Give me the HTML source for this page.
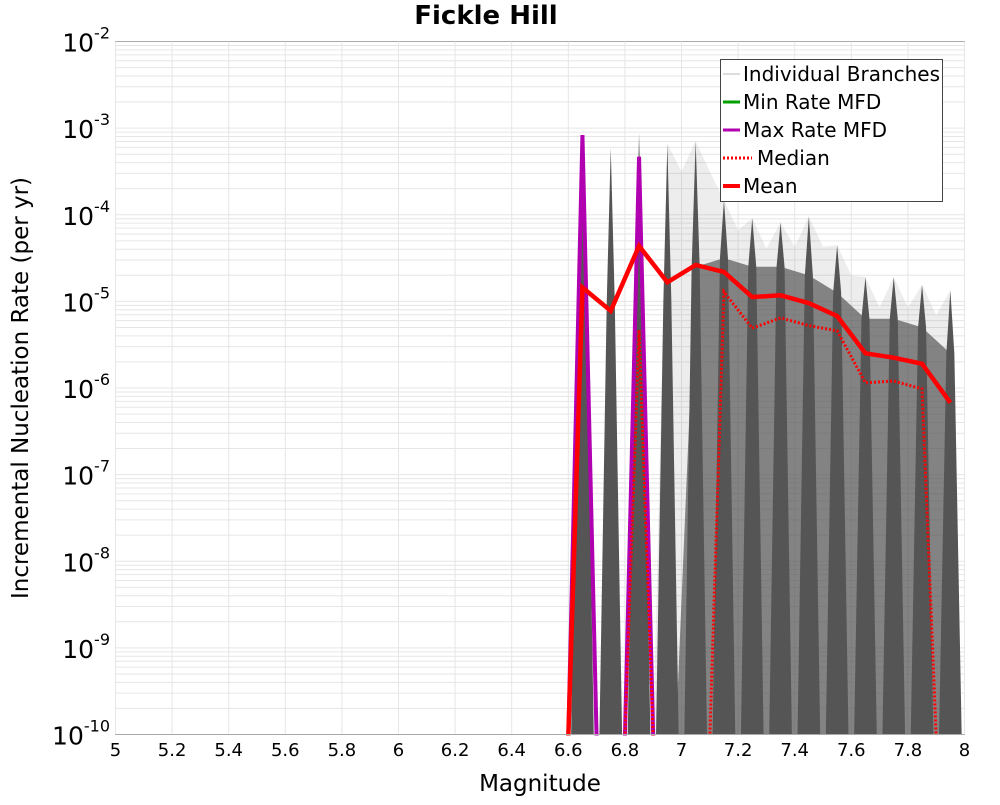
<!DOCTYPE html>
<html><head><meta charset="utf-8"><style>
body{margin:0;background:#fff;font-family:"Liberation Sans","DejaVu Sans",sans-serif}
svg text{font-family:"DejaVu Sans","Liberation Sans",sans-serif}
</style></head><body>
<svg id="chart" width="1000" height="800" viewBox="0 0 1000 800">
<text x="486" y="24" text-anchor="middle" font-size="26" font-weight="bold">Fickle Hill</text>
<rect x="115.5" y="41.5" width="849" height="693" fill="#fff" stroke="#aaa"/>
<g id="grid"></g><g id="branches"></g><g id="series"></g><g id="axes"></g>
<text transform="translate(28,388) rotate(-90)" text-anchor="middle" font-size="23">Incremental Nucleation Rate (per yr)</text>
<text x="540" y="791" text-anchor="middle" font-size="23">Magnitude</text>
<g>
<rect x="720.5" y="59.5" width="222" height="142" fill="#fff" stroke="#444"/>
<line x1="723" y1="74" x2="740" y2="74" stroke="#bbb" stroke-width="1"/><text x="743" y="81" font-size="20">Individual Branches</text>
<line x1="723" y1="102" x2="740" y2="102" stroke="#00a000" stroke-width="3"/><text x="743" y="109" font-size="20">Min Rate MFD</text>
<line x1="723" y1="130" x2="740" y2="130" stroke="#b000b0" stroke-width="3"/><text x="743" y="137" font-size="20">Max Rate MFD</text>
<line x1="723" y1="158" x2="752" y2="158" stroke="#f00" stroke-width="3" stroke-dasharray="2,2"/><text x="757" y="165" font-size="20">Median</text>
<line x1="723" y1="186" x2="740" y2="186" stroke="#f00" stroke-width="4"/><text x="743" y="193" font-size="20">Mean</text>
</g>
</svg>
<script>
const bins=[6.55,6.65,6.75,6.85,6.95,7.05,7.15,7.25,7.35,7.45,7.55,7.65,7.75,7.85,7.95];
const meanLog=[null,-4.84,-5.11,-4.36,-4.78,-4.58,-4.66,-4.95,-4.93,-5.02,-5.17,-5.6,-5.65,-5.72,-6.17];
const medianLog=[null,null,null,-5.33,null,null,-4.89,-5.31,-5.19,-5.28,-5.34,-5.94,-5.92,-6.01,null];
const maxLog=[null,-3.08,null,-3.33,null,null,null,null,null,null,null,null,null,null,null];
const minLog=[null,null,null,null,null,null,null,null,null,null,null,null,null,null,null];
const branchMaxLog=[null,-3.08,-3.23,-3.06,-3.18,-3.15,-3.83,-4.04,-4.09,-4.02,-4.35,-4.72,-4.72,-4.81,-4.87];
const branchMidLog=[null,-5.0,-5.0,-5.0,-5.0,-4.6,-4.5,-4.6,-4.6,-4.7,-4.9,-5.2,-5.2,-5.3,-5.6];
const xTicks=[5,5.2,5.4,5.6,5.8,6,6.2,6.4,6.6,6.8,7,7.2,7.4,7.6,7.8,8];
const xTickLabels=["5","5.2","5.4","5.6","5.8","6","6.2","6.4","6.6","6.8","7","7.2","7.4","7.6","7.8","8"];
const yDecades=[-2,-3,-4,-5,-6,-7,-8,-9,-10];
const NS="http://www.w3.org/2000/svg";
const X0=115.5,X1=964.5,Y0=41.5,Y1=734.5;
const xs=m=>X0+(m-5)/3*(X1-X0);
const ys=l=>Y0+(-2-l)/8*(Y1-Y0);
function mk(tag,attrs,parent){const e=document.createElementNS(NS,tag);for(const k in attrs)e.setAttribute(k,attrs[k]);parent.appendChild(e);return e;}
const grid=document.getElementById('grid'),axes=document.getElementById('axes'),br=document.getElementById('branches'),ser=document.getElementById('series');
for(let d=-10;d<-2;d++){for(let k=1;k<10;k++){const y=ys(d+Math.log10(k));const l=mk('line',{x1:X0,x2:X1,y1:y,y2:y,stroke:'#e6e6e6','stroke-width':1},grid);

}}
xTicks.forEach((t,i)=>{const x=xs(t);const g=mk('line',{x1:x,x2:x,y1:Y0,y2:Y1,stroke:'#e6e6e6'},grid);


const tx=mk('text',{x:x,y:756,'text-anchor':'middle','font-size':18},axes);tx.textContent=xTickLabels[i];

});
yDecades.forEach(d=>{const y=ys(d);const t=mk('text',{x:110,y:y+10,'text-anchor':'end','font-size':25},axes);


t.textContent='10';const s=mk('tspan',{dy:-13,'font-size':16},t);s.textContent=String(d);});
let env=[[xs(6.9),Y1]];
bins.forEach((b,i)=>{if(b<6.9||branchMaxLog[i]==null)return;env.push([xs(b),ys(branchMaxLog[i])]);if(b<7.9)env.push([xs(b+0.05),ys(Math.max(branchMaxLog[i],branchMaxLog[i+1]||-9)-0.35)]);});
env.push([xs(7.98),Y1]);
const mesh=mk('polygon',{points:env.map(p=>p.join(',')).join(' '),fill:'#777','fill-opacity':0.13},br);


const meshD=[[xs(6.98),Y1]];
bins.forEach((b,i)=>{if(b<7.0||branchMidLog[i]==null)return;meshD.push([xs(b),ys(branchMidLog[i])]);});
meshD.push([xs(7.97),Y1]);
const md=mk('polygon',{points:meshD.map(p=>p.join(',')).join(' '),fill:'#555','fill-opacity':0.7},br);


bins.forEach((b,i)=>{if(branchMaxLog[i]==null)return;const c=xs(b),top=ys(branchMaxLog[i]),mid=ys(branchMidLog[i]);
const sp=mk('polygon',{points:`${xs(b-0.04)},${Y1} ${c-4},${mid} ${c},${top} ${c+4},${mid} ${xs(b+0.04)},${Y1}`,fill:'#555'},br);

});
function series(vals,attrs,name){const pts=[];vals.forEach((v,i)=>{const b=bins[i];if(v!=null){pts.push([xs(b),ys(v)]);}else{const prev=vals[i-1],next=vals[i+1];
if(prev!=null&&i>0)pts.push([xs(b-0.05),Y1+3]);
if(next!=null){pts.push(null);pts.push([xs(b+0.05),Y1+3]);}}});
let d='',pen=false;pts.forEach(p=>{if(p==null){pen=false;return;}d+=(pen?'L':'M')+p[0]+','+p[1];pen=true;});
if(!d)return;const e=mk('path',Object.assign({d:d,fill:'none','stroke-linejoin':'miter'},attrs),ser);

}
series(minLog,{stroke:'#00a000','stroke-width':3},'min-rate-line');
series(maxLog,{stroke:'#b000b0','stroke-width':4},'max-rate-line');
series(medianLog,{stroke:'#f00','stroke-width':3,'stroke-dasharray':'2,2'},'median-line');
series(meanLog,{stroke:'#f00','stroke-width':4.5},'mean-line');
mk('rect',{x:X0,y:Y1+1,width:X1-X0+2,height:10,fill:'#fff'},ser);
mk('line',{x1:X0,x2:X1,y1:Y1,y2:Y1,stroke:'#aaa'},ser);
</script>
</body></html>
